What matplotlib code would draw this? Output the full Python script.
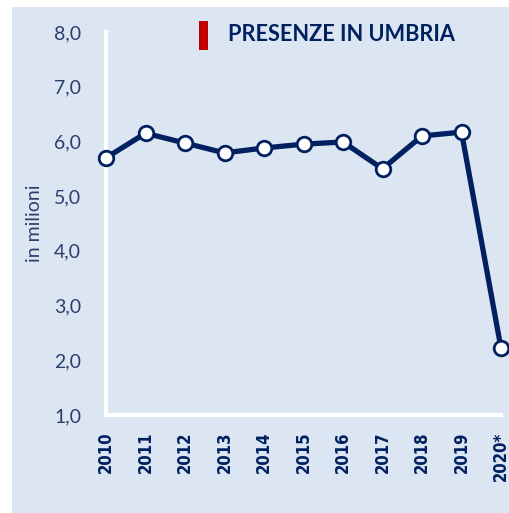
import matplotlib.pyplot as plt
from matplotlib.patches import Rectangle
from matplotlib.ticker import FuncFormatter

years = ['2010', '2011', '2012', '2013', '2014', '2015', '2016', '2017', '2018', '2019', '2020*']
presenze = [5.70, 6.15, 5.97, 5.79, 5.88, 5.95, 5.99, 5.50, 6.10, 6.17, 2.22]
y_ticks = [1.0, 2.0, 3.0, 4.0, 5.0, 6.0, 7.0, 8.0]

navy = '#002060'
bg = '#dce6f2'

fig = plt.figure(figsize=(5.10, 5.13), dpi=100)
fig.patches.append(Rectangle((12 / 510, 0), 1, 1 - 7 / 513, transform=fig.transFigure,
                             facecolor=bg, edgecolor='none', zorder=-10))

ax = fig.add_axes([106 / 510, 98 / 513, 395 / 510, 383 / 513])
ax.set_facecolor('none')

x = list(range(len(years)))
ax.plot(x, presenze, color=navy, linewidth=3.8, marker='o', markersize=10.5,
        markerfacecolor='white', markeredgecolor=navy, markeredgewidth=2, clip_on=False, zorder=5)

ax.set_xlim(0, len(years) - 1)
ax.set_ylim(1.0, 8.0)
ax.set_yticks(y_ticks)
ax.yaxis.set_major_formatter(FuncFormatter(lambda v, p: f'{v:.1f}'.replace('.', ',')))
ax.set_xticks(x)
ax.set_xticklabels(years, rotation=90, fontsize=12, fontweight='bold', color=navy,
                   fontstretch='condensed')

for lab in ax.get_yticklabels():
    lab.set_fontsize(14)
    lab.set_color('#2c3e6e')
    lab.set_family('Lato')

ax.tick_params(axis='both', length=0)
ax.tick_params(axis='y', pad=18)
ax.tick_params(axis='x', pad=12)

for side in ['top', 'right']:
    ax.spines[side].set_visible(False)
for side in ['left', 'bottom']:
    ax.spines[side].set_color('white')
    ax.spines[side].set_linewidth(3)

ax.set_ylabel('in milioni', fontsize=14, color='#2c3e6e', family='Lato', labelpad=8)

# titolo con marcatore rosso
fig.patches.append(Rectangle((199 / 510, 1 - 50 / 513), 9 / 510, 29 / 513, transform=fig.transFigure,
                             facecolor='#c00000', edgecolor='none'))
fig.text(228 / 510, 1 - 35 / 513, 'PRESENZE IN UMBRIA', fontsize=15.7, fontweight='bold',
         color=navy, va='center', ha='left', family='Lato')

fig.savefig('out.png', dpi=100)
